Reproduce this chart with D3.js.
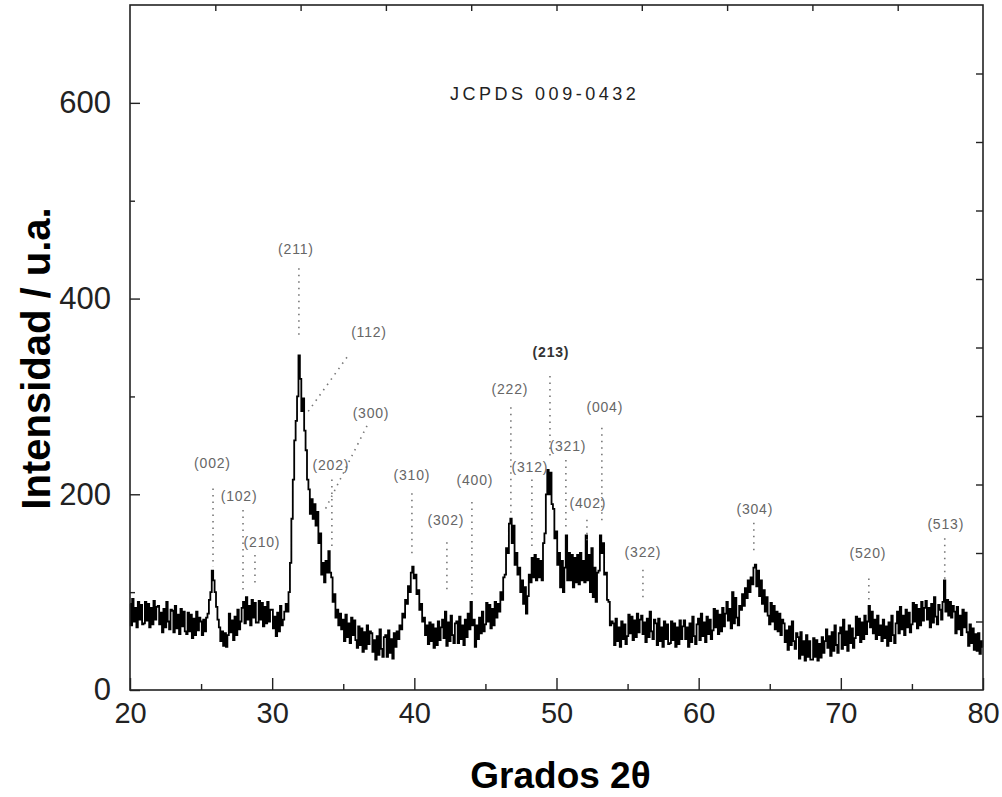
<!DOCTYPE html>
<html>
<head>
<meta charset="utf-8">
<script src="https://cdn.jsdelivr.net/npm/d3@7"></script>
<style>
  body { margin: 0; background: #fff; }
  svg { display: block; }
  text { font-family: "Liberation Sans", Arial, sans-serif; }
  .tick line { stroke: #222; stroke-width: 1.4; }
  .tick text { fill: #222; }
  .hkl { fill: #666; font-size: 14px; letter-spacing: 0.8px; }
  .leader { stroke: #777; stroke-width: 1.6; stroke-dasharray: 1.5 5; fill: none; }
  .trace { fill: none; stroke: #000; stroke-width: 1.8; }
</style>
</head>
<body>
<svg id="canvas" width="1002" height="797"></svg>
<script>
// diffractogram, 2θ from 20 to 80 in steps of 0.1
const startAngle = 20;
const stepAngle = 0.1;
const intensity = [
  88, 66, 93, 70, 84, 64, 90, 72, 87, 67,   // 20
  68, 90, 71, 88, 64, 84, 67, 91, 72, 85,   // 21
  86, 67, 79, 59, 83, 64, 90, 70, 62, 82,   // 22
  81, 59, 86, 63, 77, 57, 83, 65, 80, 60,   // 23
  57, 79, 60, 77, 53, 73, 56, 80, 61, 74,   // 24
  70, 56, 72, 60, 74, 78, 92, 100, 122, 112, // 25
  100, 85, 72, 64, 50, 60, 45, 58, 44, 56,  // 26
  78, 59, 71, 51, 75, 56, 82, 62, 70, 84,   // 27
  90, 68, 95, 72, 86, 66, 92, 74, 89, 69,   // 28
  69, 91, 72, 89, 65, 85, 68, 90, 70, 82,   // 29
  82, 63, 75, 55, 79, 60, 86, 66, 72, 80,   // 30
  88, 80, 100, 130, 175, 215, 255, 275, 300, 342, // 31
  318, 285, 298, 265, 245, 215, 205, 180, 195, 175, // 32
  190, 168, 182, 150, 160, 118, 130, 110, 132, 120, // 33
  142, 120, 115, 90, 98, 74, 82, 66, 78, 62, // 34
  72, 50, 77, 54, 68, 48, 74, 56, 71, 51,   // 35
  43, 65, 46, 63, 39, 59, 42, 66, 47, 60,   // 36
  58, 39, 51, 31, 55, 36, 62, 42, 34, 54,   // 37
  56, 34, 61, 38, 52, 32, 58, 44, 60, 52,   // 38
  66, 62, 78, 74, 92, 88, 106, 100, 120, 126, // 39
  114, 118, 98, 102, 82, 88, 70, 74, 56, 66, // 40
  47, 69, 50, 67, 43, 63, 46, 70, 51, 64,   // 41
  72, 53, 80, 45, 69, 50, 76, 56, 48, 68,   // 42
  70, 48, 75, 52, 66, 46, 72, 54, 78, 62,   // 43
  90, 66, 72, 44, 66, 52, 74, 58, 80, 60,   // 44
  67, 89, 70, 87, 63, 83, 66, 90, 74, 88,   // 45
  80, 100, 92, 115, 118, 145, 140, 170, 175, 150, // 46
  168, 128, 140, 118, 125, 100, 112, 88, 105, 78, // 47
  96, 118, 110, 135, 115, 138, 112, 134, 115, 132, // 48
  112, 150, 160, 200, 225, 200, 222, 190, 185, 155, // 49
  162, 128, 140, 105, 132, 100, 125, 158, 112, 140, // 50
  112, 138, 105, 135, 110, 138, 108, 140, 112, 132, // 51
  110, 158, 112, 138, 100, 145, 95, 125, 90, 120, // 52
  122, 158, 140, 150, 118, 120, 92, 90, 66, 70, // 53
  68, 46, 73, 50, 64, 44, 70, 52, 67, 47,   // 54
  55, 77, 58, 75, 51, 71, 54, 78, 59, 72,   // 55
  76, 57, 69, 49, 73, 54, 80, 60, 52, 72,   // 56
  68, 46, 73, 50, 64, 44, 70, 52, 67, 47,   // 57
  48, 70, 51, 68, 44, 64, 47, 71, 52, 65,   // 58
  71, 52, 64, 44, 68, 49, 75, 55, 47, 67,   // 59
  73, 51, 78, 55, 69, 49, 75, 57, 72, 52,   // 60
  61, 83, 64, 81, 57, 77, 60, 84, 65, 78,   // 61
  90, 71, 83, 63, 100, 68, 94, 74, 66, 86,  // 62
  82, 98, 86, 104, 94, 112, 100, 115, 108, 125, // 63
  128, 106, 122, 96, 112, 88, 102, 80, 95, 76, // 64
  67, 89, 70, 86, 62, 80, 60, 78, 56, 72,   // 65
  68, 49, 61, 41, 65, 46, 70, 50, 42, 58,   // 66
  54, 32, 59, 36, 50, 30, 56, 34, 50, 31,   // 67
  31, 53, 34, 51, 30, 47, 33, 54, 38, 50,   // 68
  62, 43, 55, 35, 59, 40, 66, 46, 38, 58,   // 69
  64, 42, 72, 46, 60, 40, 66, 48, 63, 43,   // 70
  53, 75, 56, 73, 49, 69, 52, 76, 57, 70,   // 71
  86, 64, 80, 58, 72, 52, 76, 56, 66, 50,   // 72
  72, 53, 65, 45, 69, 50, 76, 56, 48, 68,   // 73
  80, 58, 85, 62, 76, 56, 82, 64, 79, 59,   // 74
  67, 89, 70, 87, 63, 83, 66, 90, 71, 84,   // 75
  91, 72, 84, 64, 88, 69, 95, 75, 67, 87,   // 76
  82, 72, 90, 112, 80, 92, 76, 90, 74, 86,  // 77
  80, 58, 85, 62, 76, 56, 82, 64, 79, 59,   // 78
  45, 67, 48, 63, 41, 57, 40, 58, 37, 50,   // 79
  44                                          // 80
];

// JCPDS 009-0432 reflections: label place and dotted leader (top -> bottom)
const hklNames  = ["(002)", "(102)", "(210)", "(211)", "(112)", "(300)", "(202)", "(310)", "(302)", "(400)",
                   "(222)", "(312)", "(213)", "(321)", "(402)", "(004)", "(322)", "(304)", "(520)", "(513)"];
const labelAngle = [25.8, 27.67, 29.28, 31.67, 36.81, 36.95, 34.13, 39.83, 42.22, 44.26,
                    46.72, 48.13, 49.61, 50.8, 52.21, 53.4, 56.08, 63.95, 71.9, 77.38];
const labelInt   = [232, 198, 151, 451, 366, 283, 230, 220, 174, 215,
                    307, 228, 345, 249, 191, 289, 141, 185, 140, 170];
const leadAngle1 = [25.84, 27.95, 28.79, 31.88, 35.26, 36.67, 34.2, 39.83, 42.29, 44.05,
                    46.79, 48.27, 49.54, 50.66, 52.14, 53.19, 56.08, 63.88, 71.97, 77.31];
const leadInt1   = [206, 184, 138, 431, 340, 270, 215, 201, 151, 192,
                    289, 215, 321, 235, 174, 268, 123, 171, 114, 155];
const leadAngle2 = [25.84, 27.95, 28.79, 31.88, 32.45, 33.71, 34.2, 39.83, 42.29, 44.05,
                    46.79, 48.27, 49.54, 50.66, 52.14, 53.19, 56.08, 63.88, 71.97, 77.31];
const leadInt2   = [126, 102, 109, 360, 283, 184, 145, 136, 99, 95,
                    177, 143, 235, 164, 153, 171, 90, 141, 89, 110];

const xMajor = [20, 30, 40, 50, 60, 70, 80];
const xMinor = [25, 35, 45, 55, 65, 75];
const yMajor = [0, 200, 400, 600];
const yMinor = [100, 300, 500];
const topTicks = [26, 32, 38, 44, 50, 56, 62, 68, 74];
const rightTicks = [70, 140, 210, 280, 350, 420, 490, 560, 630];

const svg = d3.select("#canvas");
const L = 130, R = 983, T = 5, B = 690;
const x = d3.scaleLinear().domain([20, 80]).range([L, R]);
const y = d3.scaleLinear().domain([0, 700]).range([B, T]);

const points = intensity.map((v, i) => [startAngle + i * stepAngle, v]);

// trace
svg.append("path")
    .attr("class", "trace")
    .attr("d", d3.line().x(d => x(d[0])).y(d => y(d[1])).curve(d3.curveStep)(points));

// dotted leaders
svg.append("g").selectAll("line")
    .data(hklNames)
    .join("line")
    .attr("class", "leader")
    .attr("x1", (d, i) => x(leadAngle1[i]))
    .attr("y1", (d, i) => y(leadInt1[i]))
    .attr("x2", (d, i) => x(leadAngle2[i]))
    .attr("y2", (d, i) => y(leadInt2[i]));

svg.append("g").selectAll("text")
    .data(hklNames)
    .join("text")
    .attr("class", "hkl")
    .attr("text-anchor", "middle")
    .attr("dy", "0.35em")
    .attr("x", (d, i) => x(labelAngle[i]))
    .attr("y", (d, i) => y(labelInt[i]))
    .style("fill", d => d === "(213)" ? "#333" : null)
    .style("font-weight", d => d === "(213)" ? "bold" : null)
    .text(d => d);

// axes, ticks inward
const gx = svg.append("g").attr("transform", `translate(0,${B})`)
    .call(d3.axisBottom(x).tickValues(xMajor).tickSize(-12).tickPadding(12).tickFormat(d3.format("d")));
gx.selectAll("text").style("font-size", "29px");
svg.append("g").attr("transform", `translate(0,${B})`)
    .call(d3.axisBottom(x).tickValues(xMinor).tickSize(-6).tickFormat(""));

const gy = svg.append("g").attr("transform", `translate(${L},0)`)
    .call(d3.axisLeft(y).tickValues(yMajor).tickSize(-10).tickPadding(19).tickFormat(d3.format("d")));
gy.selectAll("text").style("font-size", "31px");
svg.append("g").attr("transform", `translate(${L},0)`)
    .call(d3.axisLeft(y).tickValues(yMinor).tickSize(-5).tickFormat(""));

svg.append("g").attr("transform", `translate(0,${T})`)
    .call(d3.axisTop(x).tickValues(topTicks).tickSize(-6).tickFormat(""));
svg.append("g").attr("transform", `translate(${R},0)`)
    .call(d3.axisRight(y).tickValues(rightTicks).tickSize(-7).tickFormat(""));

svg.selectAll(".domain").remove();

svg.append("rect")
    .attr("x", L).attr("y", T)
    .attr("width", R - L).attr("height", B - T)
    .attr("fill", "none").attr("stroke", "#222").attr("stroke-width", 1.6);

svg.append("text")
    .attr("x", x(42.5)).attr("y", y(603))
    .attr("textLength", 186).attr("lengthAdjust", "spacing")
    .style("font-size", "18px").style("fill", "#222")
    .text("JCPDS 009-0432");

svg.append("text")
    .attr("transform", `translate(50,${(T + B) / 2 + 11}) rotate(-90)`)
    .attr("text-anchor", "middle")
    .style("font-size", "40px").style("font-weight", "bold")
    .text("Intensidad / u.a.");

svg.append("text")
    .attr("x", (L + R) / 2 + 4).attr("y", 788)
    .attr("text-anchor", "middle")
    .style("font-size", "37px").style("font-weight", "bold")
    .text("Grados 2θ");
</script>
</body>
</html>
